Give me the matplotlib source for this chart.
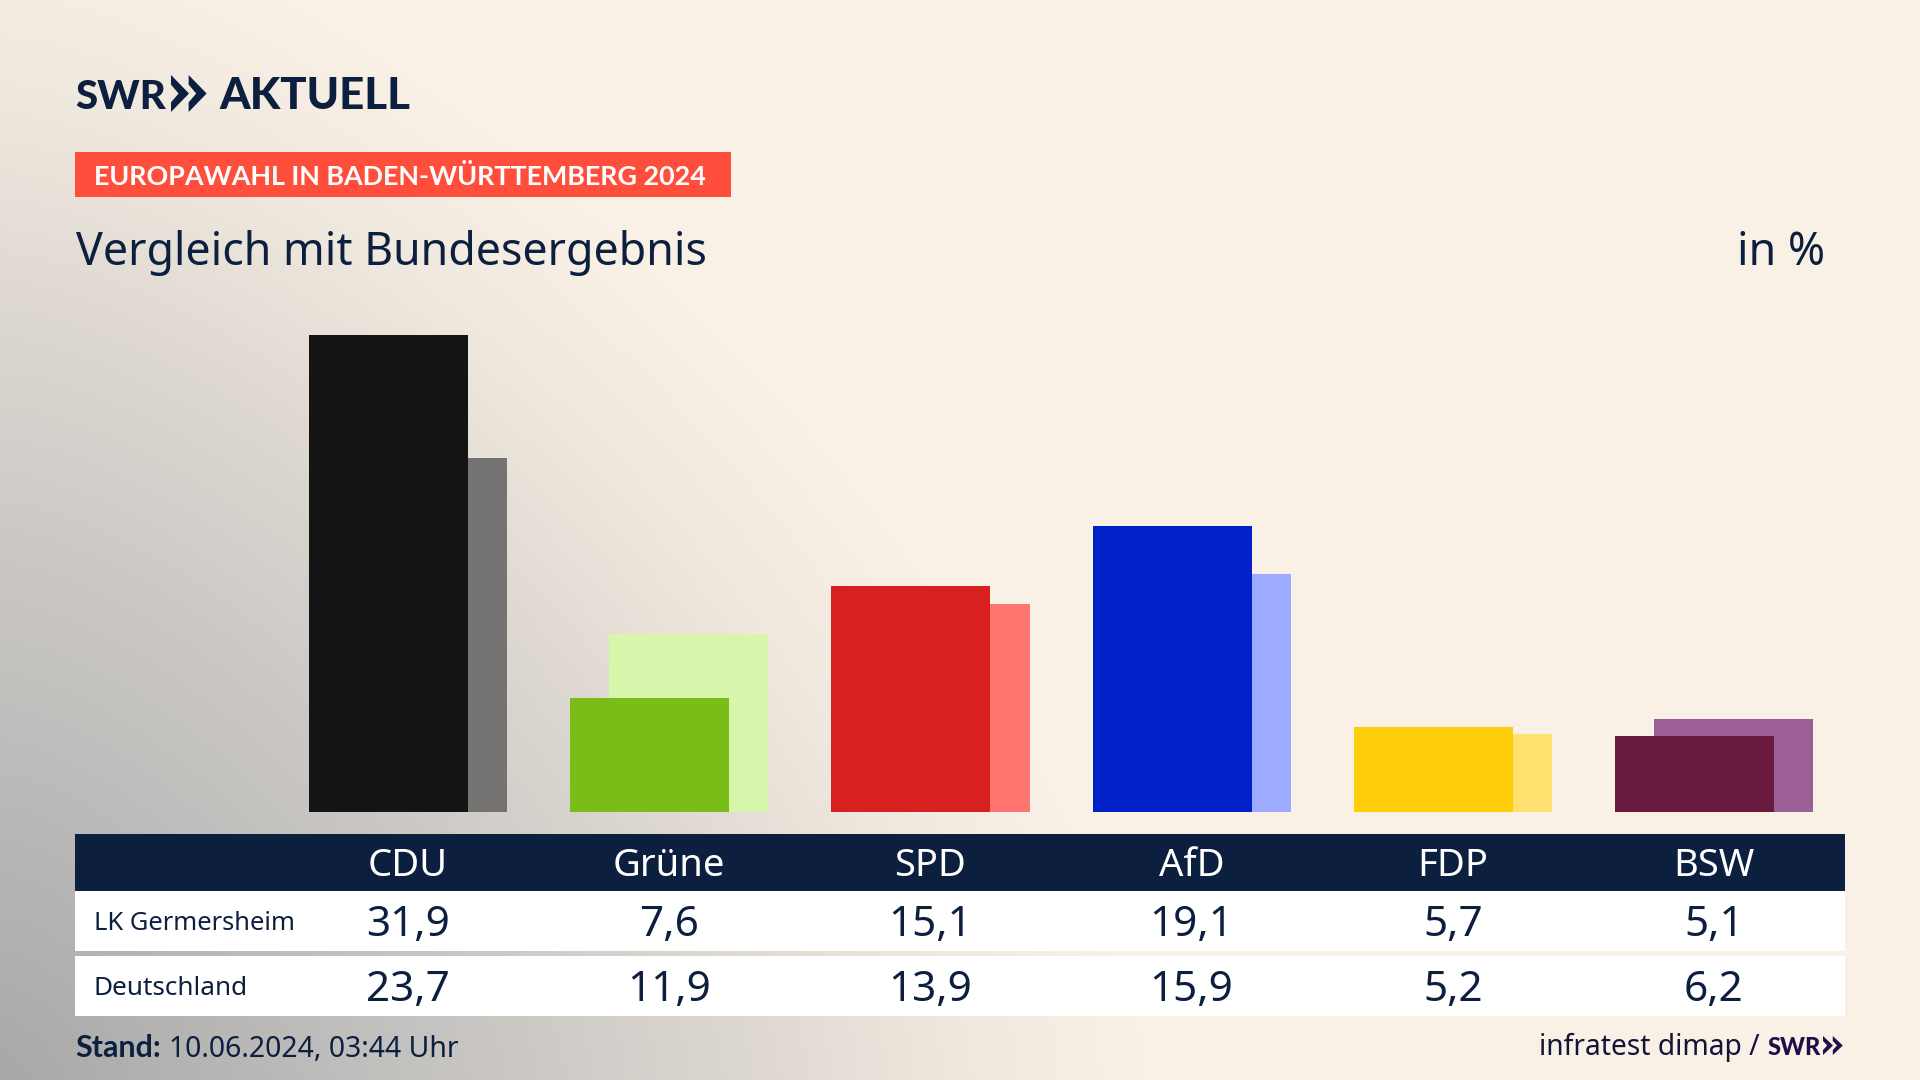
import numpy as np
import matplotlib
matplotlib.use("Agg")
import matplotlib.pyplot as plt
from matplotlib.patches import Rectangle, Polygon
from matplotlib.transforms import blended_transform_factory
from matplotlib.colors import LinearSegmentedColormap

# ---- data ----
parties = ["CDU", "Grüne", "SPD", "AfD", "FDP", "BSW"]
lk_germersheim = [31.9, 7.6, 15.1, 19.1, 5.7, 5.1]
deutschland = [23.7, 11.9, 13.9, 15.9, 5.2, 6.2]
row_names = ["LK Germersheim", "Deutschland"]
main_colors = ["#141414", "#7ABD18", "#D8201E", "#0020C8", "#FFCE0A", "#6B1A3F"]
light_colors = ["#747371", "#D8F6AB", "#FF7570", "#9CABFE", "#FFE170", "#9B5F96"]

NAVY = "#0C1F3E"
FONT = "Noto Sans"
BOLD = ["Lato", "DejaVu Sans"]
W, H = 1920, 1080
plt.rcParams["font.family"] = [FONT, "DejaVu Sans"]

fig = plt.figure(figsize=(W / 100, H / 100), dpi=100)

# full-figure pixel axes for background & decoration
bg = fig.add_axes([0, 0, 1, 1])
bg.set_xlim(0, W)
bg.set_ylim(H, 0)
bg.axis("off")

yy, xx = np.mgrid[0:H, 0:W]
p = 1.5
r = ((xx / 1150.0) ** p + ((H - yy) / 1180.0) ** p) ** (1 / p)
cmap = LinearSegmentedColormap.from_list(
    "bg",
    [(0.0, "#A8A8A8"), (0.3, "#BFBEBC"), (0.6, "#D8D3CD"), (0.85, "#F0E9DF"), (1.0, "#FAF1E6")],
)
bg.imshow(np.clip(r, 0, 1), cmap=cmap, vmin=0, vmax=1, extent=(0, W, H, 0), aspect="auto", zorder=0)


def chevrons(x, top, bottom, w, color):
    mid = (top + bottom) / 2
    h = bottom - top
    for cx in (x, x + w * 0.98):
        bg.add_patch(Polygon(
            [(cx, top), (cx + w, mid), (cx, bottom), (cx, bottom - h * 0.26),
             (cx + w * 0.42, mid), (cx, top + h * 0.26)],
            closed=True, fc=color, ec="none", zorder=3))


# logo
bg.text(75, 109, "SWR", fontsize=29, fontweight="black", family=BOLD, color=NAVY, va="baseline", ha="left", zorder=3)
chevrons(171, 75, 112, 18, NAVY)
bg.text(219, 109, "AKTUELL", fontsize=31.5, fontweight="black", family=BOLD, color=NAVY, va="baseline", ha="left", zorder=3)

# red tag
bg.add_patch(Rectangle((75, 152), 656, 45, fc="#FF4F3C", ec="none", zorder=2))
bg.text(94, 185, "EUROPAWAHL IN BADEN-WÜRTTEMBERG 2024", fontsize=19.4, fontweight="bold", family=BOLD,
        color="white", va="baseline", ha="left", zorder=3)

# title
bg.text(76, 265, "Vergleich mit Bundesergebnis", fontsize=32.2, color=NAVY, va="baseline", ha="left", zorder=3)
bg.text(1825, 265, "in %", fontsize=32.2, color=NAVY, va="baseline", ha="right", zorder=3)

# table backgrounds
bg.add_patch(Rectangle((75, 834), 1770, 57, fc=NAVY, ec="none", zorder=2))
bg.add_patch(Rectangle((75, 891), 1770, 60, fc="white", ec="none", zorder=2))
bg.add_patch(Rectangle((75, 956), 1770, 60, fc="white", ec="none", zorder=2))

# bars axes: x in category units, y in percent
px_step = 261.2
center0 = 408.0
px_per_unit = 14.95
ax_left, ax_right, ax_top, ax_bottom = 75, 1845, 300, 812
ax = fig.add_axes([ax_left / W, 1 - ax_bottom / H, (ax_right - ax_left) / W, (ax_bottom - ax_top) / H])
ax.set_xlim((ax_left - center0) / px_step, (ax_right - center0) / px_step)
ax.set_ylim(0, (ax_bottom - ax_top) / px_per_unit)
ax.axis("off")
ax.patch.set_alpha(0)

x = np.arange(len(parties))
bar_w = 159 / px_step
off = 19.6 / px_step
ax.bar(x + off, deutschland, width=bar_w, color=light_colors, zorder=1)
ax.bar(x - off, lk_germersheim, width=bar_w, color=main_colors, zorder=2)

# table text
tr = blended_transform_factory(ax.transData, bg.transData)
overlay = dict(transform=tr, clip_on=False, ha="center", va="baseline")
for i, party in enumerate(parties):
    ax.text(i, 876, party, fontsize=27.5, color="white", **overlay)
    ax.text(i, 936, f"{lk_germersheim[i]:.1f}".replace(".", ","), fontsize=30.4, color=NAVY, **overlay)
    ax.text(i, 1001, f"{deutschland[i]:.1f}".replace(".", ","), fontsize=30.4, color=NAVY, **overlay)

bg.text(94, 930, row_names[0], fontsize=18.4, color=NAVY, va="baseline", ha="left", zorder=3)
bg.text(94, 995, row_names[1], fontsize=18.8, color=NAVY, va="baseline", ha="left", zorder=3)

# footer
bg.text(75, 1057, "Stand:", fontsize=22, fontweight="bold", family=BOLD, color=NAVY, va="baseline", ha="left", zorder=3)
bg.text(169, 1057, "10.06.2024, 03:44 Uhr", fontsize=20.4, color=NAVY, va="baseline", ha="left", zorder=3)
bg.text(1760, 1055, "infratest dimap /", fontsize=20.3, color="#12143A", va="baseline", ha="right", zorder=3)
bg.text(1768, 1055, "SWR", fontsize=17, fontweight="black", family=BOLD, color="#1F0E47", va="baseline", ha="left", zorder=3)
chevrons(1823, 1036, 1055, 10, "#1F0E47")

fig.savefig("out.png", dpi=100)
